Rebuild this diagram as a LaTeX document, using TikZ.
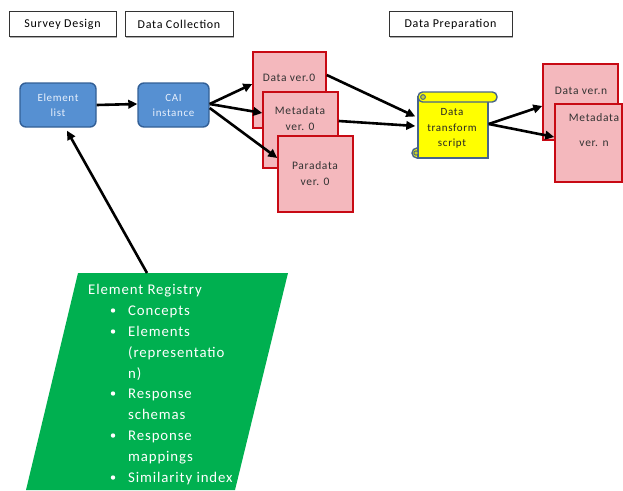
\documentclass[tikz,border=0pt]{standalone}
\usepackage{fontspec}
\setmainfont{Carlito}[LetterSpace=6]
\usetikzlibrary{arrows.meta,shadows,calc}
\definecolor{boxblue}{RGB}{86,144,210}
\definecolor{boxblueline}{RGB}{50,95,150}
\definecolor{boxtext}{RGB}{232,240,252}
\definecolor{pinkfill}{RGB}{244,184,189}
\definecolor{redline}{RGB}{200,10,20}
\definecolor{regreen}{RGB}{0,176,80}
\definecolor{scrollline}{RGB}{70,100,140}
\definecolor{scrollfill}{RGB}{255,255,0}
\begin{document}
\begin{tikzpicture}[x=1pt,y=-1pt,
  hdr/.style={draw=black!80, line width=0.6pt, fill=white, minimum height=25pt, inner sep=0pt,
    font=\fontsize{12}{14}\selectfont,
    drop shadow={shadow xshift=1.3pt, shadow yshift=-1.3pt, fill=black!40, opacity=0.8}},
  bluebox/.style={draw=boxblueline, line width=1.4pt, fill=boxblue, rounded corners=6pt,
    minimum width=#1, minimum height=44pt, inner sep=0pt, align=center,
    text=boxtext, font=\fontsize{11}{15}\selectfont},
  redbox/.style={draw=redline, line width=1.5pt, fill=pinkfill, inner sep=0pt},
  redtext/.style={text=black!80, font=\fontsize{11.5}{16.5}\selectfont, align=center, inner sep=0pt},
  regtext/.style={text=white, font=\fontsize{14.8}{16}\selectfont, anchor=base west, inner sep=0pt},
  bul/.style={circle, fill=white, minimum size=4.4pt, inner sep=0pt},
  arr/.style={line width=2.6pt, -{Triangle[length=9pt,width=8.5pt]}},
  scr/.style={draw=scrollline, line width=1.4pt, fill=scrollfill},
]
\useasboundingbox (0,0) rectangle (623,490);

% header boxes
\node[hdr, minimum width=107pt] (sd) at (62.5,24) {Survey Design};
\node[hdr, minimum width=108pt] (dc) at (179,24) {Data Collection};
\node[hdr, minimum width=123pt] (dp) at (450.5,24) {Data Preparation};

% blue boxes
\node[bluebox=76pt] (el) at (58,105) {Element\\list};
\node[bluebox=71pt] (cai) at (173.5,105) {CAI\\instance};

% version 0 boxes
\node[redbox, minimum width=73pt, minimum height=76pt] (d0) at (289.5,90) {};
\node[redtext] (d0t) at (289,78) {Data ver.0};
\node[redbox, minimum width=75pt, minimum height=76pt] (m0) at (300.5,130) {};
\node[redtext] (m0t) at (300,118.5) {Metadata\\ver. 0};
\node[redbox, minimum width=75pt, minimum height=76pt] (p0) at (315.5,174) {};
\node[redtext] (p0t) at (315,173.5) {Paradata\\ver. 0};

% scroll
\draw[scr] (417,153) circle (5);
\node[scr, minimum width=70pt, minimum height=61pt, inner sep=0pt] (sc) at (453,127.5) {};
\draw[scr, rounded corners=4.6pt] (418,92) rectangle (497,102);
\draw[scrollline, line width=1pt, fill=scrollfill!70!scrollline] (423,97) circle (2.4);
\draw[scrollline, line width=1pt, fill=scrollfill!70!scrollline] (416,153) circle (2.2);
\node[text=black!85, font=\fontsize{11}{15.5}\selectfont, align=center, inner sep=0pt] (sct) at (452,128.5) {Data\\transform\\script};

% version n boxes
\node[redbox, minimum width=75pt, minimum height=76pt] (dn) at (580.5,102) {};
\node[redtext] (dnt) at (581,91) {Data ver.n};
\node[redbox, minimum width=67pt, minimum height=78pt] (mn) at (588.5,143) {};
\node[redtext, font=\fontsize{11.5}{25}\selectfont] (mnt) at (594,130.5) {Metadata\\ver. n};

% element registry
\fill[regreen] (78,273) -- (288,273) -- (235,490) -- (26,490) -- cycle;
\coordinate (regtop) at (147,273);
\node[regtext] (r0) at (88,294) {Element Registry};
\node[bul] (b1) at (113,310.5) {};
\node[regtext] (r1) at (128,315) {Concepts};
\node[bul] (b2) at (113,331.5) {};
\node[regtext] (r2) at (128,336) {Elements};
\node[regtext] (r3) at (128,357) {(representatio};
\node[regtext] (r4) at (128,378) {n)};
\node[bul] (b3) at (113,393.5) {};
\node[regtext] (r5) at (128,398) {Response};
\node[regtext] (r6) at (128,419) {schemas};
\node[bul] (b4) at (113,435.5) {};
\node[regtext] (r7) at (128,440) {Response};
\node[regtext] (r8) at (128,461) {mappings};
\node[bul] (b5) at (113,477.5) {};
\node[regtext] (r9) at (128,482) {Similarity index};

% arrows
\draw[arr] (el.east) -- ([yshift=1pt]cai.west);
\draw[arr] ([yshift=1pt]cai.east) -- ([yshift=6pt]d0.west);
\draw[arr] ([yshift=1pt]cai.east) -- ([yshift=17pt]m0.west);
\draw[arr] ([yshift=-3pt]cai.east) -- ([yshift=16pt]p0.west);
\draw[arr] ([yshift=15pt]d0.east) -- ([xshift=-2pt,yshift=11pt]sc.west);
\draw[arr] ([yshift=9pt]m0.east) -- ([xshift=-2pt,yshift=1.5pt]sc.west);
\draw[arr] ([yshift=3.5pt]sc.east) -- ([yshift=-4pt]dn.west);
\draw[arr] ([yshift=3.5pt]sc.east) -- ([yshift=6pt]mn.west);
\draw[arr] (regtop) -- ([xshift=9pt,yshift=-3pt]el.south);
\end{tikzpicture}
\end{document}
